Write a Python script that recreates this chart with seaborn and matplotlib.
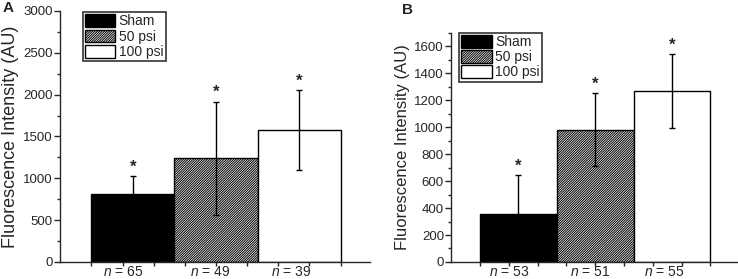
import numpy as np
import pandas as pd
import matplotlib
matplotlib.use('Agg')
import matplotlib.pyplot as plt
from matplotlib.patches import Patch
from matplotlib.ticker import MultipleLocator
import seaborn as sns

sns.set_style('ticks')
plt.rcParams['font.family'] = ['Liberation Sans', 'DejaVu Sans']
plt.rcParams['mathtext.fontset'] = 'custom'
plt.rcParams['mathtext.it'] = 'Liberation Sans:italic'
plt.rcParams['mathtext.rm'] = 'Liberation Sans'
plt.rcParams['hatch.linewidth'] = 0.7

# dados
groups = ['Sham', '50 psi', '100 psi']
mean_a = [811, 1237, 1576]
err_a = [211, 680, 473]
n_a = ['$n$ = 65', '$n$ = 49', '$n$ = 39']
mean_b = [359, 982, 1269]
err_b = [284, 270, 274]
n_b = ['$n$ = 53', '$n$ = 51', '$n$ = 55']

colors = ['black', 'white', 'white']
hatches = ['', '/' * 14, '']

fig = plt.figure(figsize=(7.38, 2.79), dpi=100)
ax_a = fig.add_axes([0.081, 0.061, 0.420, 0.900])
ax_b = fig.add_axes([0.611, 0.061, 0.388, 0.822])


def draw_panel(ax, means, errs, labels, ymax, major, minor, leg_pos, ylab_size):
    df = pd.DataFrame({'group': groups, 'value': means})
    sns.barplot(data=df, x='group', y='value', hue='group', palette=colors,
                width=1.0, dodge=False, errorbar=None, legend=False,
                edgecolor='black', linewidth=1.0, ax=ax)
    for patch, h in zip(ax.patches, hatches):
        patch.set_hatch(h)
    xs = np.arange(len(groups))
    ax.errorbar(xs, means, yerr=errs, fmt='none', ecolor='black',
                elinewidth=1.0, capsize=2.5, capthick=1.0, zorder=5)
    for x, m, e in zip(xs, means, errs):
        ax.annotate('*', (x, m + e), xytext=(0, 1), textcoords='offset points',
                    ha='center', va='bottom', fontsize=12, fontweight='bold')
    ax.set_ylim(0, ymax)
    ax.set_xlim(-0.88, 2.85)
    ax.yaxis.set_major_locator(MultipleLocator(major))
    ax.yaxis.set_minor_locator(MultipleLocator(minor))
    # rótulos n = ... e marcas do eixo x
    ax.set_xticks([-0.12, 0.93, 1.9])
    ax.set_xticklabels(labels)
    ax.set_xticks(np.arange(-0.5, 2.6, 0.375), minor=True)
    ax.tick_params(axis='x', which='major', length=0, pad=2, labelsize=10)
    ax.tick_params(axis='x', which='minor', length=3, width=1, direction='out')
    ax.tick_params(axis='y', which='major', length=4, width=1, labelsize=9.5, pad=1)
    ax.tick_params(axis='y', which='minor', length=2, width=1)
    ax.set_xlabel('')
    ax.set_ylabel('Fluorescence Intensity (AU)', fontsize=ylab_size, labelpad=3)
    for s in ['top', 'right']:
        ax.spines[s].set_visible(False)
    for s in ['left', 'bottom']:
        ax.spines[s].set_linewidth(1.0)
    handles = [Patch(facecolor=c, edgecolor='black', hatch=h, linewidth=1.0)
               for c, h in zip(colors, hatches)]
    leg = ax.legend(handles, groups, loc='upper left', bbox_to_anchor=leg_pos,
                    fontsize=10, frameon=True, fancybox=False, framealpha=1,
                    edgecolor='#333333', handlelength=2.2, handleheight=1.05,
                    labelspacing=0.08, handletextpad=0.25, borderpad=0.15,
                    borderaxespad=0)
    leg.get_frame().set_linewidth(1.2)


draw_panel(ax_a, mean_a, err_a, n_a, 3000, 500, 250, (0.074, 0.995), 13)
draw_panel(ax_b, mean_b, err_b, n_b, 1700, 200, 100, (0.028, 1.0), 12)

fig.text(0.004, 0.995, 'A', fontsize=11, fontweight='bold', va='top', ha='left')
fig.text(0.545, 0.99, 'B', fontsize=11, fontweight='bold', va='top', ha='left')

fig.savefig('out.png', dpi=100)
